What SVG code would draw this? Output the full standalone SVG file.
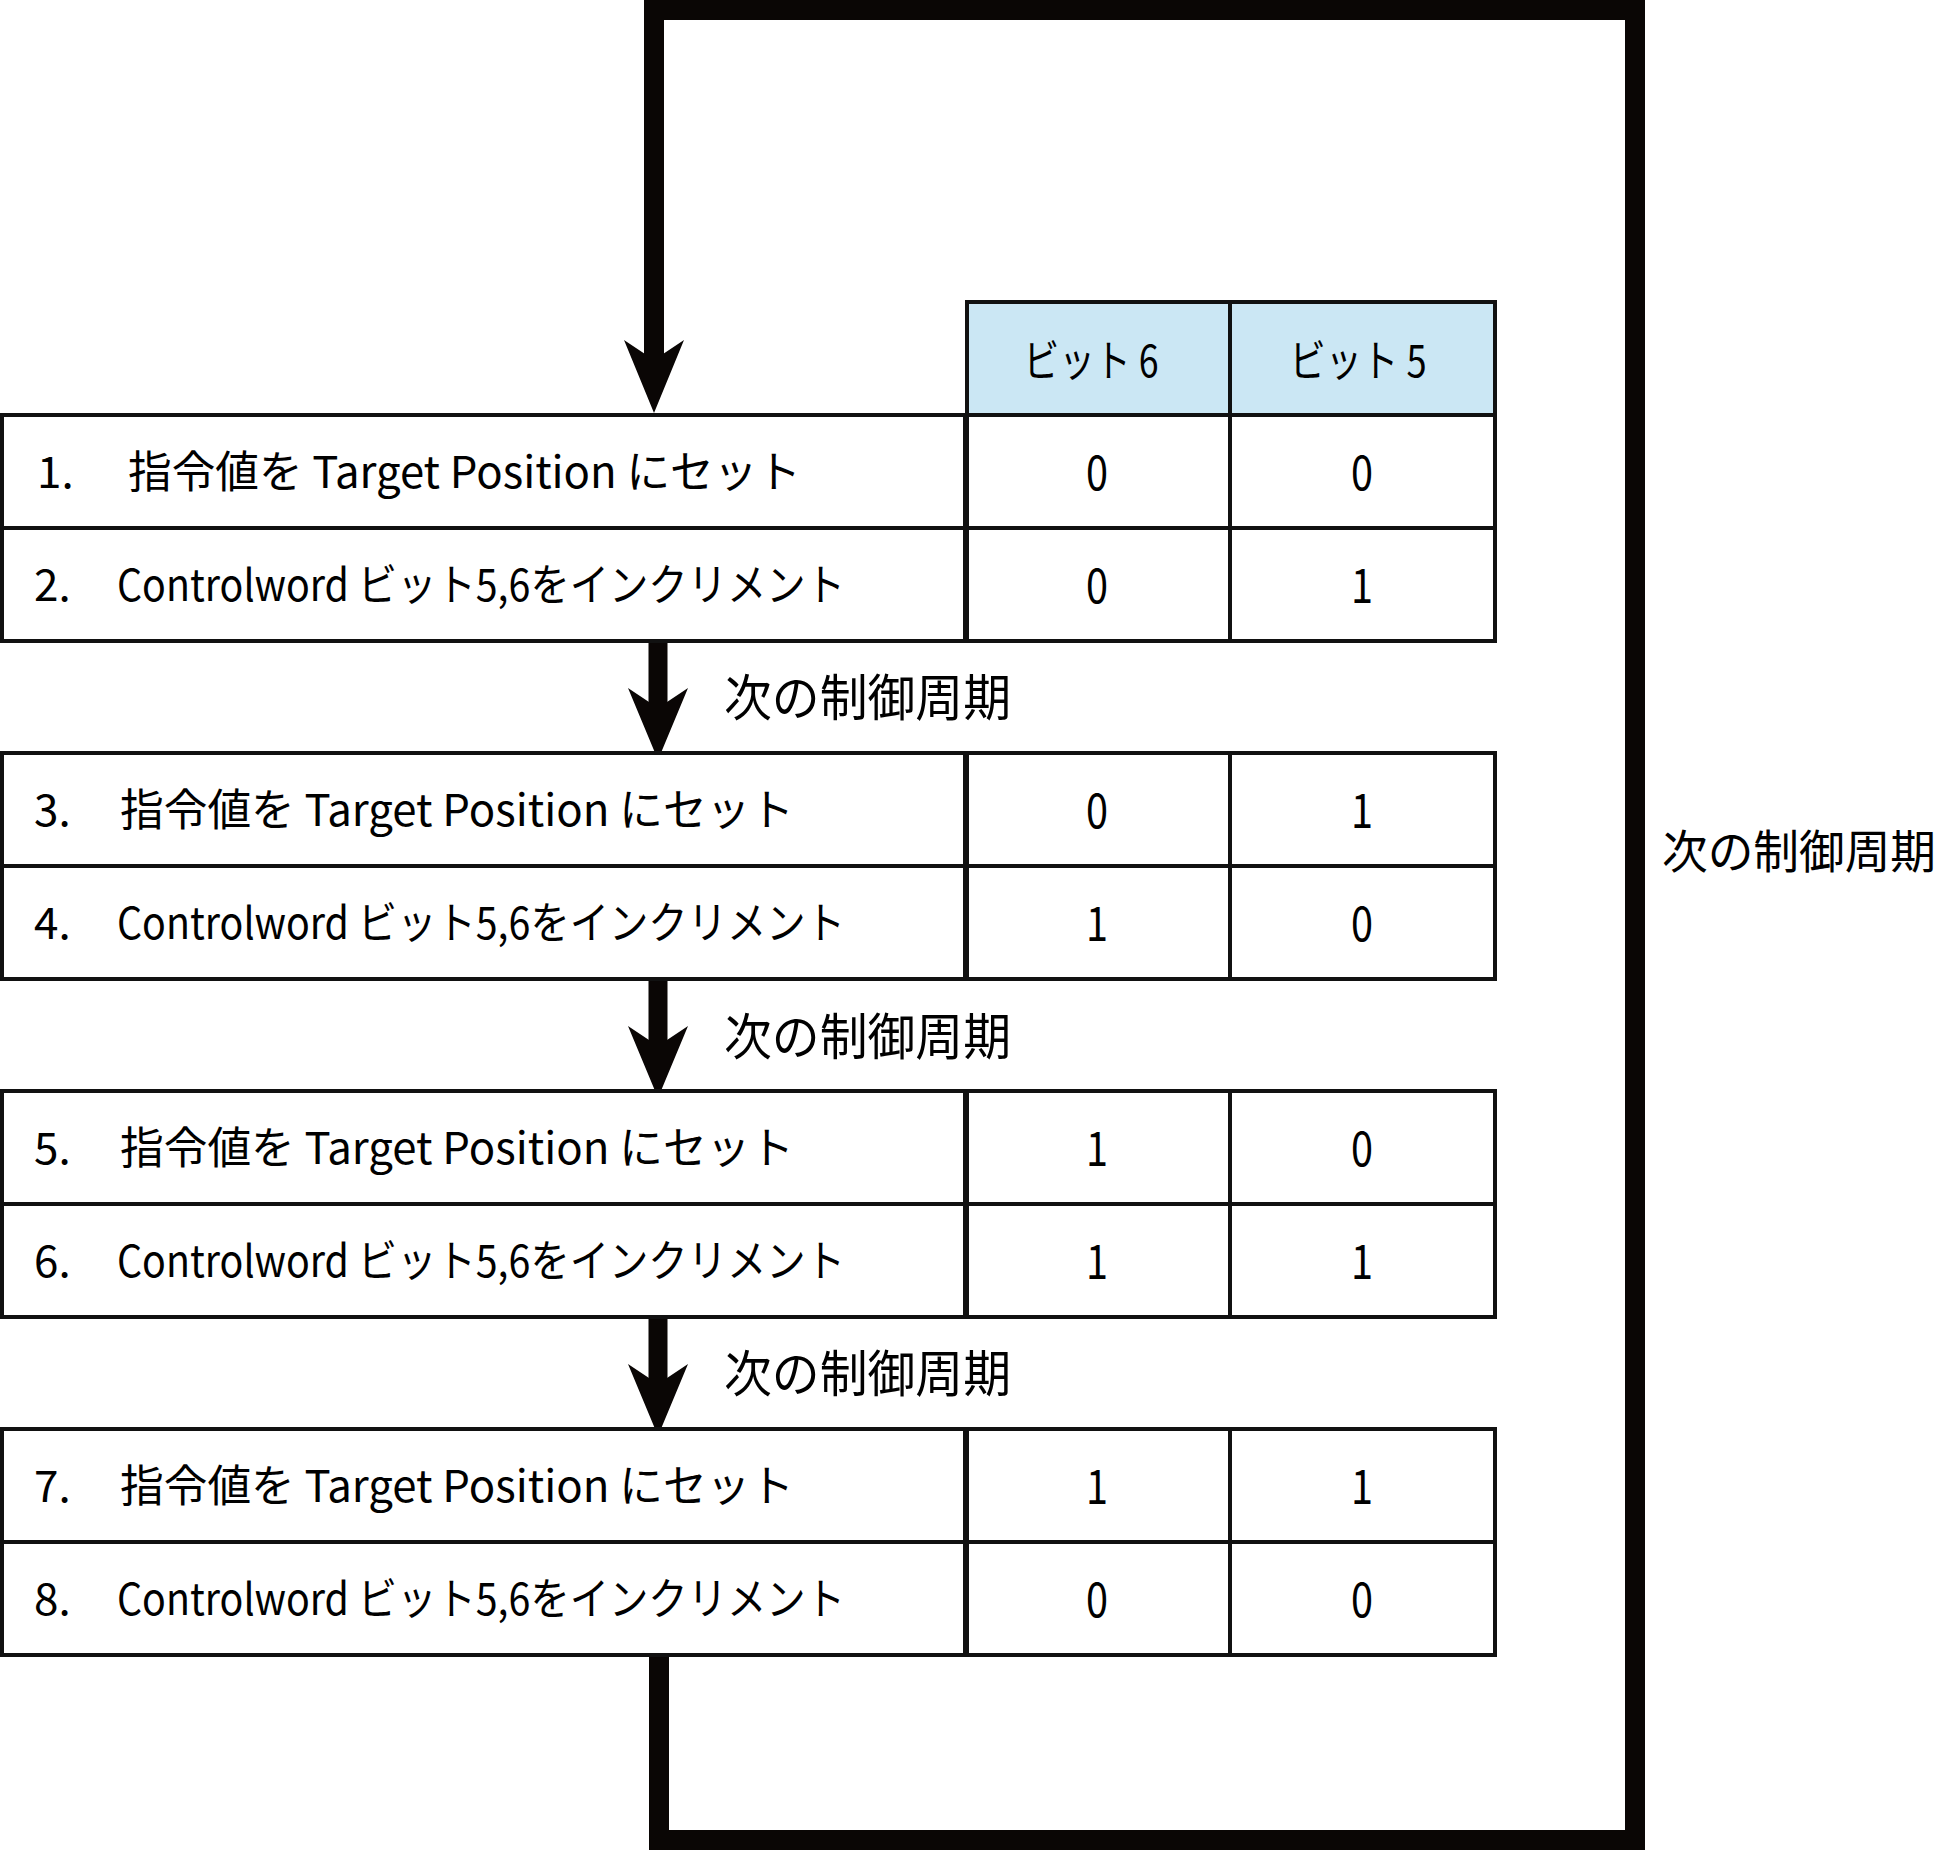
<svg xmlns="http://www.w3.org/2000/svg" width="1952" height="1850" viewBox="0 0 1952 1850">
<style>
.cell{fill:#fff;stroke:#111;stroke-width:4}
.hdr{fill:#cbe7f4;stroke:#111;stroke-width:4}
.t{font-family:"Noto Sans CJK JP","Liberation Sans",sans-serif;font-size:44px;fill:#000}
.d{font-family:"Noto Sans CJK JP","Liberation Sans",sans-serif;font-size:48px;fill:#000;text-anchor:middle}
.h{font-family:"Noto Sans CJK JP","Liberation Sans",sans-serif;font-size:44px;fill:#000;text-anchor:middle}
.lbl{font-family:"Noto Sans CJK JP","Liberation Sans",sans-serif;font-size:50px;fill:#000}
.lblr{font-family:"Noto Sans CJK JP","Liberation Sans",sans-serif;font-size:46px;fill:#000}
.line{fill:none;stroke:#0a0605;stroke-linejoin:miter;stroke-linecap:butt}
.head{fill:#0a0605}
</style>
<rect width="1952" height="1850" fill="#fff"/>
<g id="connectors">
<polyline class="line" stroke-width="20" points="659,1656 659,1840 1635,1840 1635,10 654,10 654,356"/>
<path class="head" d="M654,413 L684,340 L663,354 L645,354 L624,340 Z"/>
<line class="line" stroke-width="19" x1="658" y1="641" x2="658" y2="703"/>
<path class="head" d="M658,760 L688,688 L667,702 L649,702 L628,688 Z"/>
<line class="line" stroke-width="19" x1="658" y1="979" x2="658" y2="1041"/>
<path class="head" d="M658,1098 L688,1026 L667,1040 L649,1040 L628,1026 Z"/>
<line class="line" stroke-width="19" x1="658" y1="1317" x2="658" y2="1379"/>
<path class="head" d="M658,1436 L688,1364 L667,1378 L649,1378 L628,1364 Z"/>
<text class="lbl" x="724" y="716" textLength="287" lengthAdjust="spacingAndGlyphs">次の制御周期</text>
<text class="lbl" x="724" y="1055" textLength="287" lengthAdjust="spacingAndGlyphs">次の制御周期</text>
<text class="lbl" x="724" y="1392" textLength="287" lengthAdjust="spacingAndGlyphs">次の制御周期</text>
<text class="lblr" x="1662" y="868" textLength="274" lengthAdjust="spacingAndGlyphs">次の制御周期</text>
</g>
<g id="header">
<rect class="hdr" x="967" y="302" width="263" height="113"/>
<rect class="hdr" x="1230" y="302" width="265" height="113"/>
<text class="h" x="1091" y="377" textLength="135" lengthAdjust="spacingAndGlyphs">ビット 6</text>
<text class="h" x="1358" y="377" textLength="137" lengthAdjust="spacingAndGlyphs">ビット 5</text>
</g>
<g id="step1">
<rect class="cell" x="2" y="415" width="963" height="113"/>
<rect class="cell" x="967" y="415" width="263" height="113"/>
<rect class="cell" x="1230" y="415" width="265" height="113"/>
<text class="t" x="37" y="488">1.</text>
<text class="t" x="128" y="488" textLength="673" lengthAdjust="spacingAndGlyphs">指令値を Target Position にセット</text>
<text class="d" x="1097" y="490" textLength="22" lengthAdjust="spacingAndGlyphs">0</text>
<text class="d" x="1362" y="490" textLength="22" lengthAdjust="spacingAndGlyphs">0</text>
</g>
<g id="step2">
<rect class="cell" x="2" y="528" width="963" height="113"/>
<rect class="cell" x="967" y="528" width="263" height="113"/>
<rect class="cell" x="1230" y="528" width="265" height="113"/>
<text class="t" x="34" y="601">2.</text>
<text class="t" x="117" y="601" textLength="728" lengthAdjust="spacingAndGlyphs">Controlword ビット5,6をインクリメント</text>
<text class="d" x="1097" y="603" textLength="22" lengthAdjust="spacingAndGlyphs">0</text>
<text class="d" x="1362" y="603" textLength="22" lengthAdjust="spacingAndGlyphs">1</text>
</g>
<g id="step3">
<rect class="cell" x="2" y="753" width="963" height="113"/>
<rect class="cell" x="967" y="753" width="263" height="113"/>
<rect class="cell" x="1230" y="753" width="265" height="113"/>
<text class="t" x="34" y="826">3.</text>
<text class="t" x="120" y="826" textLength="674" lengthAdjust="spacingAndGlyphs">指令値を Target Position にセット</text>
<text class="d" x="1097" y="828" textLength="22" lengthAdjust="spacingAndGlyphs">0</text>
<text class="d" x="1362" y="828" textLength="22" lengthAdjust="spacingAndGlyphs">1</text>
</g>
<g id="step4">
<rect class="cell" x="2" y="866" width="963" height="113"/>
<rect class="cell" x="967" y="866" width="263" height="113"/>
<rect class="cell" x="1230" y="866" width="265" height="113"/>
<text class="t" x="34" y="939">4.</text>
<text class="t" x="117" y="939" textLength="728" lengthAdjust="spacingAndGlyphs">Controlword ビット5,6をインクリメント</text>
<text class="d" x="1097" y="941" textLength="22" lengthAdjust="spacingAndGlyphs">1</text>
<text class="d" x="1362" y="941" textLength="22" lengthAdjust="spacingAndGlyphs">0</text>
</g>
<g id="step5">
<rect class="cell" x="2" y="1091" width="963" height="113"/>
<rect class="cell" x="967" y="1091" width="263" height="113"/>
<rect class="cell" x="1230" y="1091" width="265" height="113"/>
<text class="t" x="34" y="1164">5.</text>
<text class="t" x="120" y="1164" textLength="674" lengthAdjust="spacingAndGlyphs">指令値を Target Position にセット</text>
<text class="d" x="1097" y="1166" textLength="22" lengthAdjust="spacingAndGlyphs">1</text>
<text class="d" x="1362" y="1166" textLength="22" lengthAdjust="spacingAndGlyphs">0</text>
</g>
<g id="step6">
<rect class="cell" x="2" y="1204" width="963" height="113"/>
<rect class="cell" x="967" y="1204" width="263" height="113"/>
<rect class="cell" x="1230" y="1204" width="265" height="113"/>
<text class="t" x="34" y="1277">6.</text>
<text class="t" x="117" y="1277" textLength="728" lengthAdjust="spacingAndGlyphs">Controlword ビット5,6をインクリメント</text>
<text class="d" x="1097" y="1279" textLength="22" lengthAdjust="spacingAndGlyphs">1</text>
<text class="d" x="1362" y="1279" textLength="22" lengthAdjust="spacingAndGlyphs">1</text>
</g>
<g id="step7">
<rect class="cell" x="2" y="1429" width="963" height="113"/>
<rect class="cell" x="967" y="1429" width="263" height="113"/>
<rect class="cell" x="1230" y="1429" width="265" height="113"/>
<text class="t" x="34" y="1502">7.</text>
<text class="t" x="120" y="1502" textLength="674" lengthAdjust="spacingAndGlyphs">指令値を Target Position にセット</text>
<text class="d" x="1097" y="1504" textLength="22" lengthAdjust="spacingAndGlyphs">1</text>
<text class="d" x="1362" y="1504" textLength="22" lengthAdjust="spacingAndGlyphs">1</text>
</g>
<g id="step8">
<rect class="cell" x="2" y="1542" width="963" height="113"/>
<rect class="cell" x="967" y="1542" width="263" height="113"/>
<rect class="cell" x="1230" y="1542" width="265" height="113"/>
<text class="t" x="34" y="1615">8.</text>
<text class="t" x="117" y="1615" textLength="728" lengthAdjust="spacingAndGlyphs">Controlword ビット5,6をインクリメント</text>
<text class="d" x="1097" y="1617" textLength="22" lengthAdjust="spacingAndGlyphs">0</text>
<text class="d" x="1362" y="1617" textLength="22" lengthAdjust="spacingAndGlyphs">0</text>
</g>
</svg>
